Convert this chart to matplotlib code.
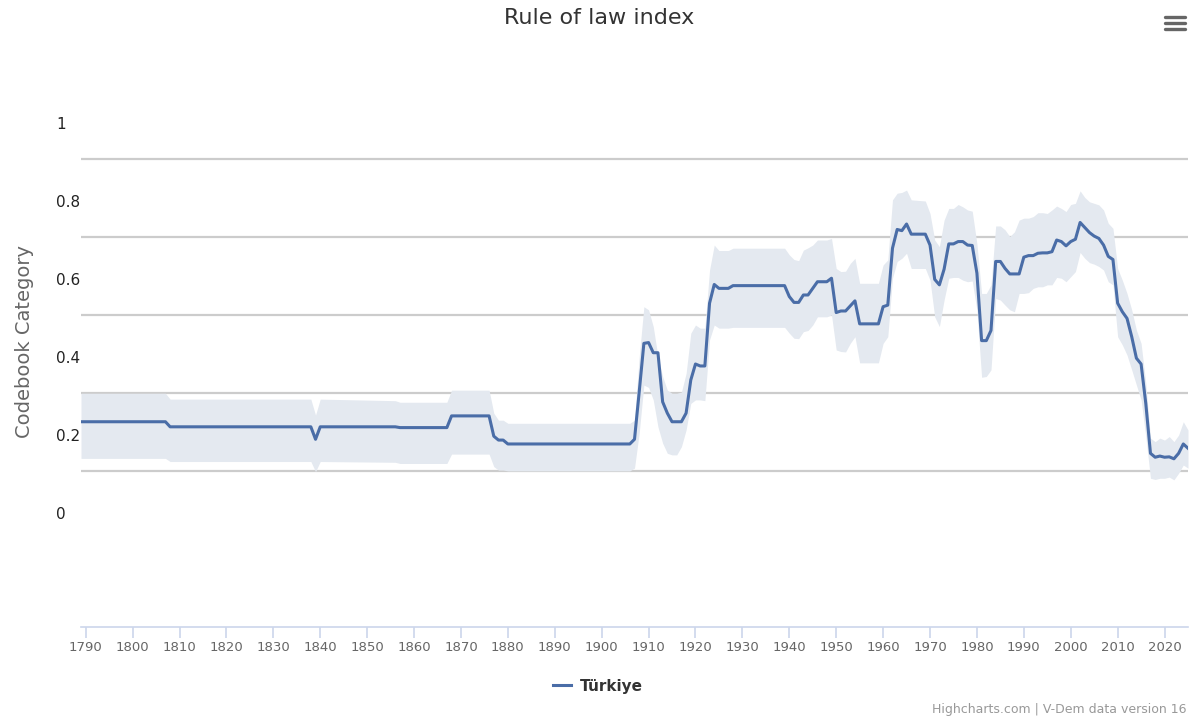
import matplotlib
matplotlib.use("Agg")
import matplotlib.pyplot as plt
from matplotlib.lines import Line2D

# V-Dem rule of law index, Türkiye
years = [1789, 1807, 1808, 1838, 1839, 1840, 1856, 1857, 1867, 1868, 1876, 1877, 1878,
         1879, 1880, 1906, 1907, 1908, 1909, 1910, 1911, 1912, 1913, 1914, 1915, 1916,
         1917, 1918, 1919, 1920, 1921, 1922, 1923, 1924, 1925, 1927, 1928, 1939, 1940,
         1941, 1942, 1943, 1944, 1945, 1946, 1948, 1949, 1950, 1951, 1952, 1953, 1954,
         1955, 1959, 1960, 1961, 1962, 1963, 1964, 1965, 1966, 1969, 1970, 1971, 1972,
         1973, 1974, 1975, 1976, 1977, 1978, 1979, 1980, 1981, 1982, 1983, 1984, 1985,
         1986, 1987, 1988, 1989, 1990, 1991, 1992, 1993, 1994, 1995, 1996, 1997, 1998,
         1999, 2000, 2001, 2002, 2003, 2004, 2005, 2006, 2007, 2008, 2009, 2010, 2011,
         2012, 2013, 2014, 2015, 2016, 2017, 2018, 2019, 2020, 2021, 2022, 2023, 2024,
         2025]

index_value = [0.234, 0.234, 0.221, 0.221, 0.189, 0.221, 0.221, 0.219, 0.219, 0.249, 0.249,
               0.197, 0.187, 0.187, 0.177, 0.177, 0.189, 0.310, 0.435, 0.437, 0.411, 0.411,
               0.285, 0.256, 0.234, 0.234, 0.234, 0.256, 0.341, 0.382, 0.377, 0.377, 0.538,
               0.586, 0.576, 0.576, 0.583, 0.583, 0.555, 0.540, 0.540, 0.559, 0.559, 0.576,
               0.593, 0.593, 0.602, 0.514, 0.518, 0.518, 0.531, 0.544, 0.485, 0.485, 0.529,
               0.533, 0.679, 0.727, 0.724, 0.741, 0.715, 0.715, 0.687, 0.599, 0.585, 0.625,
               0.690, 0.690, 0.696, 0.696, 0.687, 0.686, 0.615, 0.442, 0.442, 0.468, 0.645,
               0.645, 0.627, 0.613, 0.613, 0.613, 0.656, 0.660, 0.660, 0.666, 0.667, 0.667,
               0.670, 0.700, 0.696, 0.685, 0.696, 0.702, 0.745, 0.732, 0.719, 0.710, 0.704,
               0.687, 0.658, 0.650, 0.538, 0.516, 0.499, 0.452, 0.397, 0.382, 0.281, 0.153,
               0.143, 0.146, 0.143, 0.144, 0.139, 0.153, 0.177, 0.166]

upper = [0.307, 0.307, 0.292, 0.292, 0.251, 0.292, 0.288, 0.284, 0.284, 0.315, 0.315,
         0.256, 0.238, 0.238, 0.230, 0.230, 0.238, 0.400, 0.529, 0.521, 0.478, 0.401,
         0.350, 0.315, 0.307, 0.307, 0.310, 0.358, 0.461, 0.482, 0.474, 0.474, 0.623,
         0.687, 0.673, 0.673, 0.679, 0.679, 0.662, 0.650, 0.647, 0.674, 0.680, 0.687,
         0.700, 0.700, 0.704, 0.627, 0.619, 0.620, 0.640, 0.653, 0.589, 0.589, 0.636,
         0.649, 0.803, 0.820, 0.822, 0.828, 0.803, 0.800, 0.768, 0.700, 0.683, 0.751,
         0.781, 0.781, 0.791, 0.785, 0.777, 0.774, 0.690, 0.563, 0.563, 0.585, 0.736,
         0.736, 0.726, 0.709, 0.721, 0.751, 0.756, 0.756, 0.760, 0.770, 0.770, 0.768,
         0.777, 0.787, 0.781, 0.773, 0.791, 0.794, 0.826, 0.809, 0.798, 0.794, 0.790,
         0.777, 0.743, 0.730, 0.627, 0.597, 0.563, 0.521, 0.469, 0.435, 0.333, 0.192,
         0.183, 0.192, 0.187, 0.196, 0.183, 0.200, 0.234, 0.213]

lower = [0.140, 0.140, 0.132, 0.132, 0.106, 0.132, 0.130, 0.127, 0.127, 0.151, 0.151,
         0.119, 0.110, 0.110, 0.108, 0.108, 0.115, 0.205, 0.328, 0.322, 0.290, 0.221,
         0.179, 0.153, 0.149, 0.149, 0.170, 0.213, 0.281, 0.290, 0.290, 0.288, 0.444,
         0.482, 0.474, 0.474, 0.476, 0.476, 0.461, 0.448, 0.447, 0.465, 0.468, 0.482,
         0.503, 0.503, 0.508, 0.418, 0.414, 0.413, 0.435, 0.452, 0.385, 0.385, 0.435,
         0.452, 0.602, 0.645, 0.653, 0.666, 0.627, 0.627, 0.597, 0.503, 0.478, 0.546,
         0.602, 0.604, 0.604, 0.597, 0.593, 0.595, 0.520, 0.348, 0.350, 0.367, 0.550,
         0.546, 0.533, 0.521, 0.516, 0.563, 0.563, 0.565, 0.576, 0.580, 0.580, 0.585,
         0.585, 0.604, 0.602, 0.593, 0.606, 0.619, 0.668, 0.653, 0.642, 0.638, 0.632,
         0.623, 0.593, 0.585, 0.452, 0.431, 0.405, 0.367, 0.328, 0.290, 0.196, 0.089,
         0.086, 0.089, 0.089, 0.092, 0.085, 0.102, 0.123, 0.115]

x_ticks = list(range(1790, 2021, 10))
y_ticks = [0, 0.2, 0.4, 0.6, 0.8, 1]
y_tick_labels = ["0", "0.2", "0.4", "0.6", "0.8", "1"]
grid_values = [0.1077, 0.3077, 0.5077, 0.7077, 0.9077]

fig = plt.figure(figsize=(11.99, 7.16), dpi=100)
ax = fig.add_axes([81 / 1199, 1 - 627 / 716, (1188 - 81) / 1199, (627 - 81) / 716])

# grid lines (offset from the labels, as in the original)
for g in grid_values:
    ax.axhline(g, color="#cccccc", lw=1.6, zorder=1)

ax.fill_between(years, lower, upper, color="#e4e9f0", lw=0, zorder=2)
ax.plot(years, index_value, color="#4a6da7", lw=2.2, zorder=3, label="Türkiye")

ax.set_xlim(1789, 2025)
ax.set_ylim(-0.2923, 1.1077)

for side in ["top", "right", "left"]:
    ax.spines[side].set_visible(False)
ax.spines["bottom"].set_color("#ccd6eb")
ax.spines["bottom"].set_linewidth(1.2)

ax.set_xticks(x_ticks)
ax.tick_params(axis="x", colors="#ccd6eb", length=8, width=1.2, pad=2,
               labelcolor="#666666", labelsize=9.5)

ax.set_yticks(y_ticks)
ax.set_yticklabels(y_tick_labels)
ax.tick_params(axis="y", length=0, pad=18, labelsize=11, labelcolor="#222222")
for lab in ax.get_yticklabels():
    lab.set_horizontalalignment("left")

fig.text(25 / 1199, 1 - 341 / 716, "Codebook Category", rotation=90,
         ha="center", va="center", fontsize=14, color="#666666")

fig.text(0.5, 1 - 18 / 716, "Rule of law index", ha="center", va="center",
         fontsize=16, color="#333333")

leg = fig.legend(loc="center", bbox_to_anchor=(598 / 1199, 1 - 686 / 716),
                 frameon=False, handlelength=1.2, handletextpad=0.6,
                 prop={"weight": "bold", "size": 11})
for t in leg.get_texts():
    t.set_color("#333333")

fig.text(1186 / 1199, 1 - 709 / 716, "Highcharts.com | V-Dem data version 16",
         ha="right", va="center", fontsize=9, color="#999999")

# menu icon top right
for yy in [17, 23, 29]:
    fig.add_artist(Line2D([1165 / 1199, 1185 / 1199], [1 - yy / 716, 1 - yy / 716],
                          transform=fig.transFigure, color="#666666", lw=2.4,
                          solid_capstyle="round"))

fig.savefig("out.png", dpi=100)
